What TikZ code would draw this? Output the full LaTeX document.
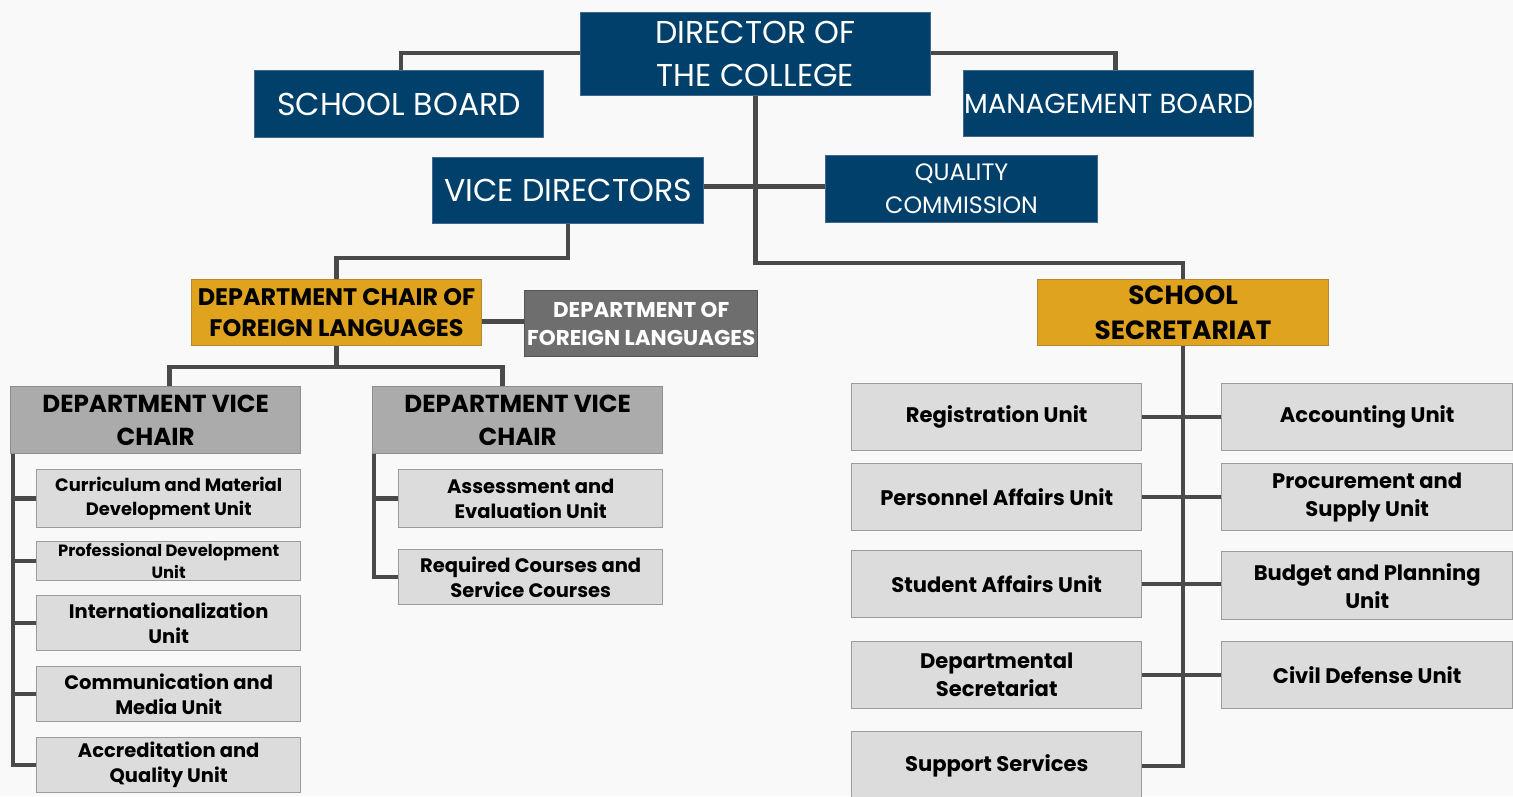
\documentclass[tikz,border=0pt]{standalone}
\usepackage{fontspec}
\setmainfont{Poppins}
\definecolor{bg}{HTML}{F9F9F9}
\definecolor{navy}{HTML}{01406A}
\definecolor{navyedge}{HTML}{3F6A8E}
\definecolor{gold}{HTML}{DFA31D}
\definecolor{goldedge}{HTML}{B08A3A}
\definecolor{dflgray}{HTML}{6E6E6E}
\definecolor{dfledge}{HTML}{555555}
\definecolor{vcgray}{HTML}{ABABAB}
\definecolor{vcedge}{HTML}{8E8E8E}
\definecolor{unitgray}{HTML}{DCDCDC}
\definecolor{unitedge}{HTML}{9C9C9C}
\definecolor{conncol}{HTML}{4A4A4A}
\newcommand\orgbox[7]{\node[#2, anchor=north west, inner sep=0pt,
  minimum width={(#5-#3)*0.02cm}, minimum height={(#6-#4)*0.02cm}] (#1) at (#3,#4) {#7};}
\tikzset{
  navybox/.style={fill=navy, draw=navyedge, line width=0.6pt, text=white, align=center},
  goldbox/.style={fill=gold, draw=goldedge, line width=0.6pt, text=black, align=center,
    font=\bfseries\fontsize{13.6}{17.6}\selectfont},
  dflbox/.style={fill=dflgray, draw=dfledge, line width=0.8pt, text=white, align=center,
    font=\bfseries\fontsize{12.2}{16}\selectfont},
  vcbox/.style={fill=vcgray, draw=vcedge, line width=0.8pt, text=black, align=center,
    font=\bfseries\fontsize{14}{18.7}\selectfont},
  unitbox/.style={fill=unitgray, draw=unitedge, line width=0.8pt, text=black, align=center,
    font=\bfseries\fontsize{10.2}{13.6}\selectfont},
  unitmid/.style={unitbox, font=\bfseries\fontsize{11.1}{14.2}\selectfont},
  runitbox/.style={unitbox, font=\bfseries\fontsize{12}{16}\selectfont},
  conn/.style={draw=conncol, line width=0.09cm},
}
\begin{document}
\begin{tikzpicture}[x=0.02cm, y=-0.02cm]
\useasboundingbox (0,0) rectangle (1513,796);
\fill[bg] (0,0) rectangle (1513,796);
% top level
\orgbox{dir}{navybox, font=\fontsize{18}{24.4}\selectfont}{580}{12}{930}{95}{DIRECTOR OF\\THE COLLEGE}
\orgbox{sb}{navybox, font=\fontsize{18}{20}\selectfont}{254}{70}{543}{137}{SCHOOL BOARD}
\orgbox{mb}{navybox, font=\fontsize{15.7}{20}\selectfont}{963}{70}{1253}{136}{MANAGEMENT BOARD}
\orgbox{vd}{navybox, font=\fontsize{18}{22}\selectfont}{432}{157}{703}{223}{VICE DIRECTORS}
\orgbox{qc}{navybox, font=\fontsize{13.5}{18.7}\selectfont}{825}{155}{1097}{222}{QUALITY\\COMMISSION}
% second level
\orgbox{dc}{goldbox}{191}{279}{481}{345}{DEPARTMENT CHAIR OF\\FOREIGN LANGUAGES}
\orgbox{dfl}{dflbox}{524}{290}{757}{356}{DEPARTMENT OF\\FOREIGN LANGUAGES}
\orgbox{ss}{goldbox, font=\bfseries\fontsize{15}{20}\selectfont}{1037}{279}{1328}{345}{SCHOOL\\SECRETARIAT}
% vice chairs
\orgbox{vc1}{vcbox}{10}{386}{300}{453}{DEPARTMENT VICE\\CHAIR}
\orgbox{vc2}{vcbox}{372}{386}{662}{453}{DEPARTMENT VICE\\CHAIR}
% left units
\orgbox{u1}{unitbox}{36}{469}{300}{527}{Curriculum and Material\\Development Unit}
\orgbox{u2}{unitbox, font=\bfseries\fontsize{9.3}{12.5}\selectfont}{36}{541}{300}{580}{Professional Development\\Unit}
\orgbox{u3}{unitmid}{36}{595}{300}{650}{Internationalization\\Unit}
\orgbox{u4}{unitmid}{36}{666}{300}{721}{Communication and\\Media Unit}
\orgbox{u5}{unitmid}{36}{737}{300}{792}{Accreditation and\\Quality Unit}
% middle units
\orgbox{m1}{unitmid}{398}{469}{662}{527}{Assessment and\\Evaluation Unit}
\orgbox{m2}{unitmid}{398}{549}{662}{604}{Required Courses and\\Service Courses}
% right units
\orgbox{reg}{runitbox}{851}{383}{1141}{450}{Registration Unit}
\orgbox{per}{runitbox}{851}{463}{1141}{530}{Personnel Affairs Unit}
\orgbox{stu}{runitbox}{851}{550}{1141}{617}{Student Affairs Unit}
\orgbox{dsec}{runitbox}{851}{641}{1141}{708}{Departmental\\Secretariat}
\orgbox{sup}{runitbox}{851}{731}{1141}{800}{Support Services}
\orgbox{acc}{runitbox}{1221}{383}{1512}{450}{Accounting Unit}
\orgbox{pro}{runitbox}{1221}{463}{1512}{530}{Procurement and\\Supply Unit}
\orgbox{bud}{runitbox}{1221}{551}{1512}{619}{Budget and Planning\\Unit}
\orgbox{civ}{runitbox}{1221}{641}{1512}{708}{Civil Defense Unit}
% connectors
\draw[conn] ([yshift=0.02cm]dir.west) -| ([xshift=0.04cm]sb.north);
\draw[conn] ([yshift=0.02cm]dir.east) -| ([xshift=0.14cm]mb.north);
\draw[conn] (dir.south) -- ++(0,167) -| (ss.north);
\draw[conn] ([yshift=0.08cm]vd.east) -- ([yshift=0.08cm]vd.east -| qc.west);
\draw[conn] (vd.south) -- ++(0,34) -| (dc.north);
\draw[conn] ([yshift=-0.18cm]dc.east) -- ([yshift=-0.18cm]dc.east -| dfl.west);
\draw[conn] (dc.south) -- ++(0,21) coordinate (dcj);
\draw[conn] (dcj) -| ([xshift=0.28cm]vc1.north);
\draw[conn] (dcj) -| ([xshift=-0.3cm]vc2.north);
\draw[conn] ([xshift=0.06cm]vc1.south west) coordinate (lt) |- (u5.west);
\foreach \u in {u1,u2,u3,u4} \draw[conn] (\u.west) -- (\u.west -| lt);
\draw[conn] ([xshift=0.04cm]vc2.south west) coordinate (mt) |- (m2.west);
\draw[conn] (m1.west) -- (m1.west -| mt);
\draw[conn] (ss.south) |- (sup.east);
\draw[conn] (reg.east) -- (acc.west);
\draw[conn] (per.east) -- (pro.west);
\draw[conn] (stu.east) -- (stu.east -| bud.west);
\draw[conn] (dsec.east) -- (civ.west);
\end{tikzpicture}
\end{document}
